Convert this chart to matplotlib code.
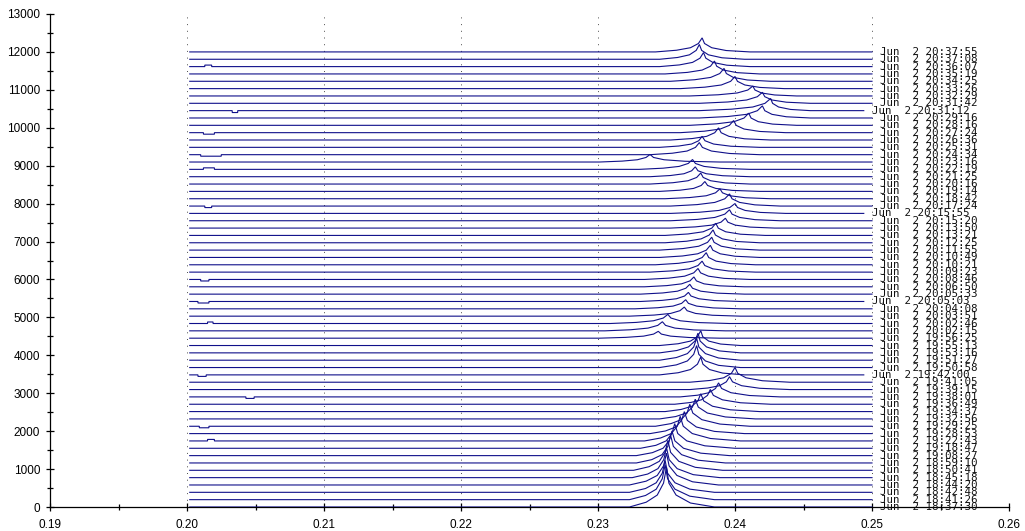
import matplotlib
matplotlib.use("Agg")
import matplotlib.pyplot as plt
from matplotlib.ticker import MultipleLocator

# ---------------- data (top trace first) ----------------
labels = [
    "20:37:55", "20:37:08", "20:36:07", "20:35:19", "20:34:25", "20:33:26", "20:32:29",
    "20:31:42", "20:31:12", "20:29:16", "20:28:16", "20:27:24", "20:26:36", "20:25:31",
    "20:24:34", "20:23:16", "20:22:19", "20:21:25", "20:20:16", "20:19:14", "20:18:42",
    "20:17:24", "20:15:55", "20:15:20", "20:13:50", "20:13:21", "20:12:25", "20:11:55",
    "20:10:49", "20:10:21", "20:09:23", "20:08:46", "20:06:50", "20:05:33", "20:05:03",
    "20:04:08", "20:03:51", "20:02:46", "20:02:15", "19:56:25", "19:55:13", "19:53:16",
    "19:51:27", "19:50:58", "19:42:00", "19:41:05", "19:39:15", "19:38:01", "19:36:49",
    "19:34:37", "19:32:56", "19:29:25", "19:28:53", "19:22:43", "19:18:47", "19:08:27",
    "18:59:10", "18:50:41", "18:45:18", "18:44:20", "18:42:48", "18:41:26", "18:37:30",
]
# traces that stop a little before 0.25
short_traces = [8, 22, 34, 44]

# peak centre, peak height, left foot, right foot (data units)
peak_x = [0.2376, 0.2374, 0.2377, 0.2385, 0.2392, 0.2400, 0.2413, 0.2420, 0.2426, 0.2420,
          0.2410, 0.2399, 0.2388, 0.2376, 0.2374, 0.2338, 0.2369, 0.2371, 0.2375, 0.2378,
          0.2389, 0.2396, 0.2400, 0.2396, 0.2393, 0.2386, 0.2384, 0.2383, 0.2382, 0.2379,
          0.2376, 0.2373, 0.2370, 0.2367, 0.2366, 0.2364, 0.2363, 0.2351, 0.2347, 0.2344,
          0.2375, 0.2373, 0.2372, 0.2372, 0.2375, 0.2400, 0.2396, 0.2388, 0.2382, 0.2375,
          0.2371, 0.2367, 0.2363, 0.2360, 0.2356, 0.2354, 0.2353, 0.2351, 0.2350, 0.2350,
          0.2349, 0.2349, 0.2350]
peak_h = [370, 390, 370, 340, 340, 320, 260, 290, 320, 320,
          320, 320, 320, 290, 320, 200, 260, 260, 290, 260,
          260, 320, 260, 290, 260, 320, 340, 340, 320, 320,
          290, 290, 260, 260, 240, 240, 240, 240, 240, 180,
          390, 520, 580, 580, 470, 390, 340, 370, 390, 470,
          520, 580, 580, 650, 650, 650, 730, 790, 790, 840,
          840, 920, 1050]
foot_l = [0.2342, 0.2345, 0.2345, 0.2349, 0.2353, 0.2360, 0.2367, 0.2374, 0.2374, 0.2374,
          0.2367, 0.2360, 0.2353, 0.2345, 0.2338, 0.2301, 0.2330, 0.2338, 0.2338, 0.2345,
          0.2349, 0.2353, 0.2353, 0.2353, 0.2353, 0.2349, 0.2349, 0.2345, 0.2345, 0.2342,
          0.2338, 0.2334, 0.2334, 0.2331, 0.2331, 0.2327, 0.2323, 0.2309, 0.2305, 0.2301,
          0.2345, 0.2345, 0.2345, 0.2345, 0.2345, 0.2367, 0.2367, 0.2360, 0.2356, 0.2349,
          0.2345, 0.2342, 0.2338, 0.2334, 0.2331, 0.2328, 0.2328, 0.2326, 0.2325, 0.2323,
          0.2323, 0.2323, 0.2323]
foot_r = [0.2411, 0.2407, 0.2411, 0.2418, 0.2426, 0.2436, 0.2445, 0.2455, 0.2455, 0.2455,
          0.2445, 0.2437, 0.2426, 0.2418, 0.2418, 0.2389, 0.2411, 0.2411, 0.2411, 0.2418,
          0.2426, 0.2433, 0.2437, 0.2433, 0.2429, 0.2422, 0.2418, 0.2418, 0.2418, 0.2415,
          0.2415, 0.2411, 0.2407, 0.2407, 0.2404, 0.2404, 0.2404, 0.2396, 0.2393, 0.2389,
          0.2404, 0.2404, 0.2404, 0.2404, 0.2407, 0.2440, 0.2440, 0.2433, 0.2426, 0.2418,
          0.2415, 0.2411, 0.2407, 0.2404, 0.2400, 0.2396, 0.2393, 0.2391, 0.2389, 0.2388,
          0.2385, 0.2385, 0.2385]

# small baseline blips: trace index, x from, x to, offset
blip_trace = [2, 8, 11, 14, 16, 21, 31, 34, 37, 44, 47, 51, 53]
blip_from = [0.2013, 0.2033, 0.2012, 0.2010, 0.2012, 0.2013, 0.2010, 0.2008, 0.2015, 0.2008, 0.2043, 0.2009, 0.2015]
blip_to = [0.2018, 0.2037, 0.2020, 0.2025, 0.2020, 0.2018, 0.2016, 0.2016, 0.2019, 0.2014, 0.2049, 0.2016, 0.2020]
blip_dy = [40, -50, -40, -40, 40, -40, -40, -40, 40, -40, -40, -40, 40]

x_start = 0.2002
x_end = 0.2500
x_end_short = 0.2494
y_top = 12000

# ---------------- figure ----------------
fig = plt.figure(figsize=(10.25, 5.31), dpi=100)
ax = fig.add_axes([50 / 1025, 24 / 531, (1009 - 50) / 1025, (507 - 14) / 531])
ax.set_xlim(0.19, 0.26)
ax.set_ylim(0, 13000)

n = len(labels)
step = y_top / (n - 1)
line_color = "#10108a"

for k in range(n):
    base = y_top - k * step
    c, h, lf, rf = peak_x[k], peak_h[k], foot_l[k], foot_r[k]
    end = x_end_short if k in short_traces else x_end
    xs = [x_start]
    ys = [0]
    for t, a, b, d in zip(blip_trace, blip_from, blip_to, blip_dy):
        if t == k:
            xs += [a, a, b, b]
            ys += [0, d, d, 0]
    xs += [lf,
           c - (c - lf) * 0.55, c - (c - lf) * 0.25, c - (c - lf) * 0.08, c,
           c + (rf - c) * 0.05, c + (rf - c) * 0.2, c + (rf - c) * 0.5, rf, end]
    ys += [0, 0.12 * h, 0.3 * h, 0.6 * h, h, 0.6 * h, 0.3 * h, 0.1 * h, 0, 0]
    ax.plot(xs, [base + v for v in ys], color=line_color, lw=0.8,
            solid_joinstyle="miter", zorder=3)
    ax.annotate("Jun  2 " + labels[k], xy=(end, base), xytext=(8, 0),
                textcoords="offset pixels", va="center", ha="left",
                family="DejaVu Sans Mono", fontsize=7.8, color="#111111",
                annotation_clip=False)

# grid
for gx in [0.20, 0.21, 0.22, 0.23, 0.24, 0.25, 0.26]:
    ln, = ax.plot([gx, gx], [0, 13000], color="#555555", lw=0.72, zorder=1)
    ln.set_dashes([1, 5.7])

for s in ["top", "right"]:
    ax.spines[s].set_visible(False)
for s in ["left", "bottom"]:
    ax.spines[s].set_linewidth(0.9)
    ax.spines[s].set_color("black")

ax.xaxis.set_major_locator(MultipleLocator(0.01))
ax.xaxis.set_minor_locator(MultipleLocator(0.005))
ax.yaxis.set_major_locator(MultipleLocator(1000))
ax.yaxis.set_minor_locator(MultipleLocator(500))
ax.tick_params(which="major", direction="inout", length=6, width=0.9, labelsize=8.5, pad=4)
ax.tick_params(which="minor", direction="inout", length=5, width=0.9)
ax.tick_params(axis="x", which="major", pad=6)
ax.set_xticklabels([f"{v:.2f}" for v in ax.get_xticks()])
for lab in ax.get_xticklabels() + ax.get_yticklabels():
    lab.set_family("Liberation Sans")

fig.savefig("out.png", dpi=100)
